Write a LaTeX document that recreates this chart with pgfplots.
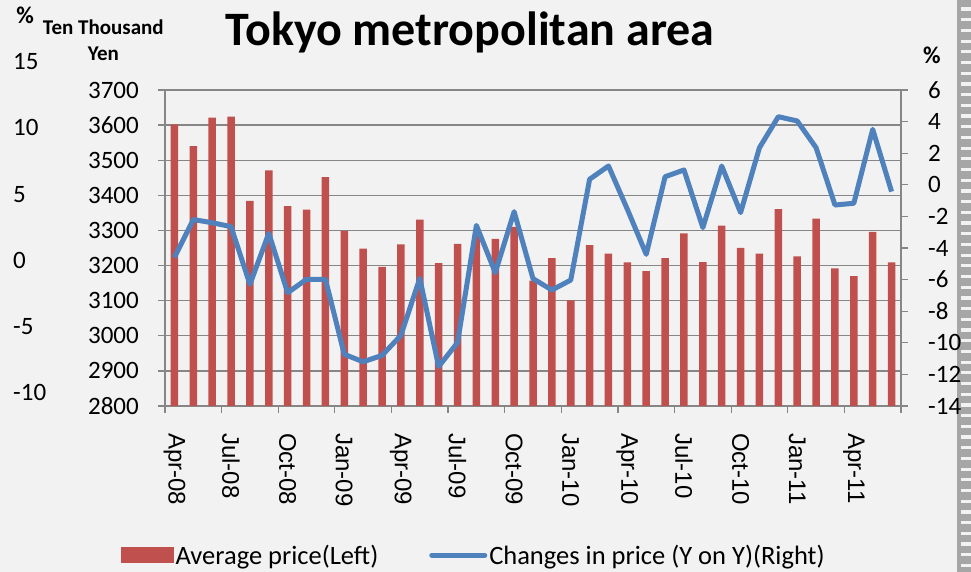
\documentclass[border=0pt]{standalone}
\usepackage{pgfplots}
\pgfplotsset{compat=1.18}
\usepackage{fontspec}
\setmainfont{Carlito}
\newfontfamily\arialf{Liberation Sans}
\definecolor{bg}{HTML}{F2F2F2}
\definecolor{barred}{HTML}{C0504D}
\definecolor{lineblue}{HTML}{4F81BD}
\definecolor{axgray}{HTML}{868686}
\definecolor{stripgray}{HTML}{A6A6A6}
\begin{document}
\begin{tikzpicture}[x=1pt,y=1pt]
\useasboundingbox (0,0) rectangle (971,572);
\fill[bg] (0,0) rectangle (971,572);
\fill[stripgray] (957,0) rectangle (960.5,572);
\draw[stripgray, line width=10.5pt, dash pattern=on 7.5pt off 3.2pt] (965.75,572) -- (965.75,0);

\begin{axis}[
  at={(165pt,166pt)}, anchor=south west,
  scale only axis, width=736pt, height=316pt,
  xmin=0, xmax=39, ymin=2800, ymax=3700,
  axis x line*=bottom, axis y line*=left,
  axis line style={-, draw=axgray, line width=1.3pt},
  ytick={2800,2900,...,3700},
  ymajorgrids, grid style={draw=axgray, line width=1.3pt},
  tick align=outside, major tick length=7pt,
  tick style={draw=axgray, line width=1.3pt},
  xtick={0,3,...,39},
  xticklabels={Apr-08,Jul-08,Oct-08,Jan-09,Apr-09,Jul-09,Oct-09,Jan-10,Apr-10,Jul-10,Oct-10,Jan-11,Apr-11,{}},
  xticklabel style={xshift=9.4pt, yshift=-20pt, rotate=-90, anchor=west, inner sep=0pt, font=\arialf\fontsize{24}{28}\selectfont},
  yticklabel style={xshift=-19pt, anchor=east, inner sep=0pt, font=\fontsize{25}{30}\selectfont},
  /pgf/number format/assume math mode=true,
  /pgf/number format/1000 sep={},
  title={Tokyo metropolitan area},
  title style={at={(0.4144,1.122)}, anchor=base, inner sep=0pt, font=\bfseries\fontsize{48}{50}\selectfont},
  extra description/.code={
    \node[anchor=base, font=\bfseries\fontsize{21}{24}\selectfont, inner sep=0pt] at (-0.0838,1.177) {Ten Thousand};
    \node[anchor=base, font=\bfseries\fontsize{21}{24}\selectfont, inner sep=0pt] at (-0.0838,1.092) {Yen};
    \node[anchor=center, font=\bfseries\fontsize{24}{28}\selectfont, inner sep=0pt] at (-0.1900,1.237) {\%};
    \node[anchor=center, font=\bfseries\fontsize{24}{28}\selectfont, inner sep=0pt] at (1.0421,1.111) {\%};
    \node[anchor=west, font=\fontsize{25}{30}\selectfont, inner sep=0pt] at (-0.2065,1.0886) {15};
    \node[anchor=west, font=\fontsize{25}{30}\selectfont, inner sep=0pt] at (-0.2065,0.8829) {10};
    \node[anchor=west, font=\fontsize{25}{30}\selectfont, inner sep=0pt] at (-0.2065,0.6677) {5};
    \node[anchor=west, font=\fontsize{25}{30}\selectfont, inner sep=0pt] at (-0.2065,0.4620) {0};
    \node[anchor=west, font=\fontsize{25}{30}\selectfont, inner sep=0pt] at (-0.2065,0.2500) {-5};
    \node[anchor=west, font=\fontsize{25}{30}\selectfont, inner sep=0pt] at (-0.2065,0.0443) {-10};
  },
]
\addplot[ybar, bar width=7.5pt, fill=barred, draw=none] coordinates {
(0.5,3602) (1.5,3540) (2.5,3621) (3.5,3624) (4.5,3384) (5.5,3471) (6.5,3369) (7.5,3359)
(8.5,3452) (9.5,3299) (10.5,3248) (11.5,3196) (12.5,3260) (13.5,3331) (14.5,3207) (15.5,3262)
(16.5,3285) (17.5,3276) (18.5,3310) (19.5,3157) (20.5,3221) (21.5,3101) (22.5,3258) (23.5,3234)
(24.5,3209) (25.5,3184) (26.5,3221) (27.5,3292) (28.5,3210) (29.5,3314) (30.5,3250) (31.5,3234)
(32.5,3361) (33.5,3226) (34.5,3334) (35.5,3192) (36.5,3170) (37.5,3296) (38.5,3209)
};
\end{axis}

\begin{axis}[
  at={(165pt,166pt)}, anchor=south west,
  scale only axis, width=736pt, height=316pt,
  xmin=0, xmax=39, ymin=-14, ymax=6,
  axis x line=none, axis y line*=right,
  axis line style={-, draw=axgray, line width=1.3pt},
  ytick={-14,-12,...,6},
  tick align=outside, major tick length=7pt,
  tick style={draw=axgray, line width=1.3pt},
  yticklabel style={xshift=20pt, anchor=west, inner sep=0pt, font=\fontsize{25}{30}\selectfont},
  /pgf/number format/assume math mode=true,
  legend columns=2,
  legend style={at={(-0.0598,-0.472)}, anchor=west, draw=none, fill=none, inner sep=0pt,
    font=\fontsize{26.5}{30}\selectfont,
    /tikz/every even column/.append style={column sep=49pt}},
]
\addlegendimage{legend image code/.code={\fill[barred] (0pt,-7.5pt) rectangle (52pt,7.5pt);}}
\addlegendentry{Average price(Left)}
\addplot[lineblue, line width=5pt, line join=round,
  legend image code/.code={\draw[lineblue, line width=5pt, line cap=round] (2pt,0pt) -- (55pt,0pt);}] coordinates {
(0.5,-4.6) (1.5,-2.2) (2.5,-2.4) (3.5,-2.65) (4.5,-6.3) (5.5,-3.07) (6.5,-6.83) (7.5,-5.98)
(8.5,-5.98) (9.5,-10.73) (10.5,-11.2) (11.5,-10.8) (12.5,-9.53) (13.5,-5.92) (14.5,-11.5) (15.5,-9.99)
(16.5,-2.57) (17.5,-5.56) (18.5,-1.7) (19.5,-5.94) (20.5,-6.66) (21.5,-6.03) (22.5,0.35) (23.5,1.19)
(24.5,-1.55) (25.5,-4.4) (26.5,0.51) (27.5,0.94) (28.5,-2.71) (29.5,1.19) (30.5,-1.76) (31.5,2.35)
(32.5,4.31) (33.5,4.04) (34.5,2.35) (35.5,-1.28) (36.5,-1.17) (37.5,3.51) (38.5,-0.43)
};
\addlegendentry{Changes in price (Y on Y)(Right)}
\end{axis}
\end{tikzpicture}
\end{document}
